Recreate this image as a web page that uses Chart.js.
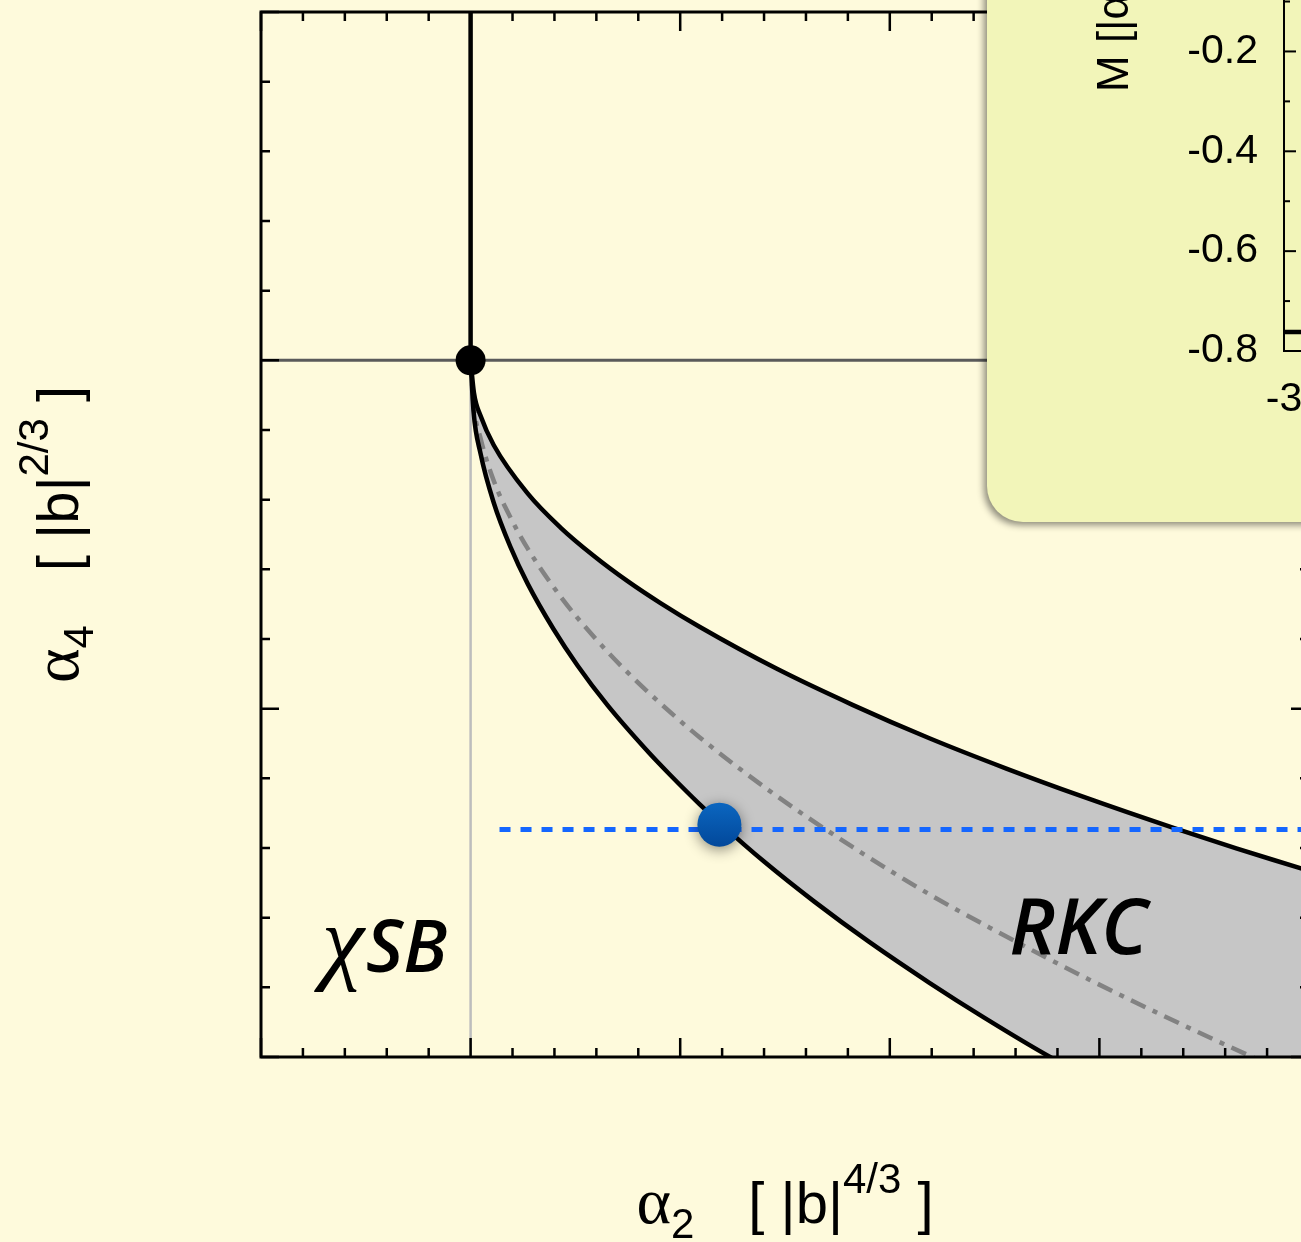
<!DOCTYPE html>
<html>
<head>
<meta charset="utf-8">
<script src="https://cdn.jsdelivr.net/npm/chart.js@4.4.1/dist/chart.umd.min.js"></script>
<style>
  html, body { margin: 0; padding: 0; background: #fefadc; overflow: hidden; }
  #wrap { position: relative; width: 1301px; height: 1242px; overflow: hidden; background: #fefadc; }
  #main { position: absolute; left: 0; top: 0; }
  #inset {
    position: absolute; left: 987px; top: -80px; width: 600px; height: 602px;
    background: #f2f5b9; border-radius: 36px; overflow: hidden;
    box-shadow: -3px 3px 7px rgba(0, 0, 0, 0.45);
  }
  #insetChart { position: absolute; left: 0; top: -19px; }
</style>
</head>
<body>
<div id="wrap">
  <canvas id="main" width="1320" height="1242"></canvas>
  <div id="inset"><canvas id="insetChart" width="600" height="621"></canvas></div>
</div>
<script>
// phase boundaries in the (alpha2, alpha4) plane, units |b|^(4/3) and |b|^(2/3)
const upperA2 = [0, 0.016, 0.048, 0.110, 0.272, 0.429, 0.587, 0.749, 0.906, 1.092, 1.459, 1.822, 2.189, 2.556, 2.918, 3.357, 3.653, 3.958, 4.0];
const upperA4 = [0, -0.093, -0.160, -0.243, -0.382, -0.480, -0.561, -0.634, -0.697, -0.765, -0.885, -0.989, -1.085, -1.172, -1.252, -1.343, -1.401, -1.458, -1.466];

const lowerA2 = [0, 0.014, 0.048, 0.110, 0.191, 0.272, 0.396, 0.510, 0.653, 0.850, 0.950, 1.092, 1.187, 1.400, 1.640, 1.900, 2.189, 2.450, 2.771, 3.4, 4.0];
const lowerA4 = [0, -0.146, -0.269, -0.408, -0.537, -0.641, -0.772, -0.876, -0.990, -1.126, -1.189, -1.274, -1.327, -1.439, -1.554, -1.669, -1.787, -1.887, -2.002, -2.20, -2.38];

const midA2 = [0, 0.014, 0.048, 0.110, 0.191, 0.272, 0.429, 0.587, 0.749, 0.906, 1.092, 1.459, 1.822, 2.189, 2.475, 2.952, 3.729, 4.0];
const midA4 = [0, -0.125, -0.225, -0.345, -0.452, -0.540, -0.678, -0.793, -0.896, -0.985, -1.082, -1.250, -1.397, -1.533, -1.628, -1.778, -2.000, -2.07];

// critical point, marked point and the scan line through it
const criticalPoint = { x: 0, y: 0 };
const markedPoint = { x: 1.187, y: -1.333 };
const scanA2 = [0.138, 4.0];
const scanA4 = -1.347;

// axis ranges and tick positions (no tick labels on the main frame)
const a2Range = [-1, 4];
const a4Range = [-2, 1];
const a2Major = [-1, 0, 1, 2, 3, 4];
const a4Major = [-2, -1, 0, 1];
const minorStep = 0.2;

// inset: low branch of M
const insetA = [-3, -2.5];
const insetM = [-0.762, -0.762];
const insetMRange = [-0.8, 0];
const insetMMinor = [-0.7, -0.5, -0.3, -0.1];

const toPoints = (xs, ys) => xs.map((x, i) => ({ x: x, y: ys[i] }));

const lineBase = { pointRadius: 0, showLine: true, fill: false };

// soft shadow under the blue marker
const markerShadow = {
  id: 'markerShadow',
  beforeDatasetDraw(chart, args) {
    if (args.index !== 0) return;
    const ctx = chart.ctx;
    ctx.save();
    ctx.shadowColor = 'rgba(0,0,0,0.45)';
    ctx.shadowBlur = 14;
    ctx.shadowOffsetY = 3;
  },
  afterDatasetDraw(chart, args) {
    if (args.index !== 0) return;
    chart.ctx.restore();
  }
};

// frame with inward ticks on all four sides
const frameTicks = {
  id: 'frameTicks',
  afterDraw(chart) {
    const { ctx, chartArea: ca, scales } = chart;
    const sx = scales.x, sy = scales.y;
    ctx.save();
    ctx.strokeStyle = '#000';
    ctx.lineCap = 'butt';
    ctx.lineWidth = 2.5;
    const isMajor = (v, list) => list.some(m => Math.abs(m - v) < 1e-6);
    for (let v = a2Range[0]; v <= a2Range[1] + 1e-6; v += minorStep) {
      const px = sx.getPixelForValue(v);
      const len = isMajor(v, a2Major) ? 19 : 9;
      ctx.beginPath();
      ctx.moveTo(px, ca.bottom); ctx.lineTo(px, ca.bottom - len);
      ctx.moveTo(px, ca.top); ctx.lineTo(px, ca.top + len);
      ctx.stroke();
    }
    for (let v = a4Range[0]; v <= a4Range[1] + 1e-6; v += minorStep) {
      const py = sy.getPixelForValue(v);
      const len = isMajor(v, a4Major) ? 18 : 9;
      ctx.beginPath();
      ctx.moveTo(ca.left, py); ctx.lineTo(ca.left + len, py);
      ctx.moveTo(ca.right, py); ctx.lineTo(ca.right - len, py);
      ctx.stroke();
    }
    ctx.lineWidth = 3;
    ctx.strokeRect(ca.left, ca.top, ca.right - ca.left, ca.bottom - ca.top);
    ctx.restore();
  }
};

// draws a title made of pieces with their own font and vertical shift
function pieceWidth(ctx, parts) {
  let w = 0;
  parts.forEach(p => {
    if (p.gap) { w += p.gap; return; }
    ctx.font = p.font;
    w += ctx.measureText(p.t).width;
  });
  return w;
}
function drawPieces(ctx, parts, x0, y0) {
  let x = x0;
  parts.forEach(p => {
    if (p.gap) { x += p.gap; return; }
    ctx.font = p.font;
    ctx.fillText(p.t, x, y0 + (p.dy || 0));
    x += ctx.measureText(p.t).width;
  });
}

const SANS = '"Liberation Sans", Arial, sans-serif';
const SERIF = '"Liberation Serif", "Times New Roman", serif';
const ITAL = '"Open Sans", Lato, sans-serif';

function axisTitle(sub, sup) {
  return [
    { t: 'α', font: '66px ' + SERIF },
    { t: sub, font: '42px ' + SANS, dy: 15 },
    { gap: 54 },
    { t: '[ |b|', font: '58px ' + SANS },
    { t: sup, font: '42px ' + SANS, dy: -30 },
    { t: ' ]', font: '58px ' + SANS }
  ];
}
const xTitle = axisTitle('2', '4/3');
const yTitle = axisTitle('4', '2/3');

const labelsPlugin = {
  id: 'labelsPlugin',
  afterDraw(chart) {
    const { ctx, chartArea: ca, scales } = chart;
    ctx.save();
    ctx.fillStyle = '#000';
    ctx.textBaseline = 'alphabetic';
    ctx.textAlign = 'left';

    // axis titles
    const cx = (ca.left + ca.right) / 2;
    const wx = pieceWidth(ctx, xTitle);
    drawPieces(ctx, xTitle, cx - wx / 2, ca.bottom + 166);

    const cy = (ca.top + ca.bottom) / 2;
    const wy = pieceWidth(ctx, yTitle);
    ctx.save();
    ctx.translate(78, cy + wy / 2);
    ctx.rotate(-Math.PI / 2);
    drawPieces(ctx, yTitle, 0, 0);
    ctx.restore();

    // region labels
    const chiX = scales.x.getPixelForValue(-0.71);
    const chiY = scales.y.getPixelForValue(-1.757);
    ctx.font = 'italic 96px ' + SERIF;
    ctx.fillText('χ', chiX, chiY);
    const chiW = ctx.measureText('χ').width;
    ctx.font = 'italic 600 72px ' + ITAL;
    ctx.fillText('SB', chiX + chiW + 2, chiY);

    ctx.font = 'italic 600 78px ' + ITAL;
    ctx.fillText('RKC', scales.x.getPixelForValue(2.57), scales.y.getPixelForValue(-1.703));
    ctx.restore();
  }
};

function markerFill(c) {
  const s = c.chart.scales.y;
  const py = s && c.raw ? s.getPixelForValue(c.raw.y) : NaN;
  if (!isFinite(py)) return '#0659ad';
  const g = c.chart.ctx.createLinearGradient(0, py - 22, 0, py + 22);
  g.addColorStop(0, '#0b66c0');
  g.addColorStop(1, '#02489a');
  return g;
}

new Chart(document.getElementById('main'), {
  type: 'scatter',
  data: {
    datasets: [
      { data: [markedPoint], showLine: false, pointRadius: 22, pointBorderWidth: 0, pointBackgroundColor: markerFill },
      { data: [criticalPoint], showLine: false, pointRadius: 15, pointBorderWidth: 0, pointBackgroundColor: '#000' },
      Object.assign({}, lineBase, {
        data: toPoints(scanA2, scanA2.map(() => scanA4)),
        borderColor: '#1466ff', borderWidth: 5, borderDash: [11, 10]
      }),
      Object.assign({}, lineBase, {
        data: toPoints(upperA2, upperA4), cubicInterpolationMode: 'monotone',
        borderColor: '#000', borderWidth: 4.5, fill: '+1', backgroundColor: '#c6c6c6'
      }),
      Object.assign({}, lineBase, {
        data: toPoints(lowerA2, lowerA4), cubicInterpolationMode: 'monotone',
        borderColor: '#000', borderWidth: 4.5
      }),
      Object.assign({}, lineBase, {
        data: toPoints(midA2, midA4), cubicInterpolationMode: 'monotone',
        borderColor: '#828282', borderWidth: 4.5, borderDash: [16, 8, 5, 8]
      }),
      Object.assign({}, lineBase, {
        data: [{ x: 0, y: 0 }, { x: 0, y: a4Range[1] }],
        borderColor: '#000', borderWidth: 4.5
      }),
      Object.assign({}, lineBase, {
        data: [{ x: a2Range[0], y: 0 }, { x: 3, y: 0 }],
        borderColor: '#5a5a5a', borderWidth: 3
      }),
      Object.assign({}, lineBase, {
        data: [{ x: 0, y: 0 }, { x: 0, y: a4Range[0] }],
        borderColor: '#bdbdbd', borderWidth: 2.5
      })
    ]
  },
  options: {
    responsive: false,
    animation: false,
    devicePixelRatio: 1,
    events: [],
    layout: { autoPadding: false, padding: { left: 261, top: 12, right: 11, bottom: 185 } },
    plugins: {
      legend: { display: false },
      tooltip: { enabled: false },
      filler: { drawTime: 'beforeDatasetsDraw' }
    },
    scales: {
      x: { type: 'linear', min: a2Range[0], max: a2Range[1], display: false },
      y: { type: 'linear', min: a4Range[0], max: a4Range[1], display: false }
    }
  },
  plugins: [markerShadow, frameTicks, labelsPlugin]
});

// inset: inward ticks and rotated axis title
const insetDecor = {
  id: 'insetDecor',
  afterDraw(chart) {
    const { ctx, chartArea: ca, scales } = chart;
    ctx.save();
    ctx.strokeStyle = '#000';
    ctx.lineWidth = 2;
    for (let v = insetMRange[0]; v <= insetMRange[1] + 1e-6; v += 0.2) {
      const py = scales.y.getPixelForValue(v);
      ctx.beginPath(); ctx.moveTo(ca.left, py); ctx.lineTo(ca.left + 12, py); ctx.stroke();
    }
    insetMMinor.forEach(v => {
      const py = scales.y.getPixelForValue(v);
      ctx.beginPath(); ctx.moveTo(ca.left, py); ctx.lineTo(ca.left + 6, py); ctx.stroke();
    });
    ctx.fillStyle = '#000';
    ctx.font = '44px ' + SANS;
    ctx.translate(ca.left - 156, ca.bottom - 259);
    ctx.rotate(-Math.PI / 2);
    ctx.fillText('M [|α₄|]', 0, 0);
    ctx.restore();
  }
};

const insetTicks = { color: '#000', font: { family: 'Liberation Sans', size: 41 } };

new Chart(document.getElementById('insetChart'), {
  type: 'scatter',
  data: {
    datasets: [{
      data: toPoints(insetA, insetM), showLine: true, pointRadius: 0,
      borderColor: '#000', borderWidth: 4.5
    }]
  },
  options: {
    responsive: false,
    maintainAspectRatio: false,
    animation: false,
    devicePixelRatio: 1,
    events: [],
    layout: { autoPadding: false, padding: { left: 0, top: 27, right: 0, bottom: 0 } },
    plugins: { legend: { display: false }, tooltip: { enabled: false } },
    scales: {
      x: {
        type: 'linear', min: -3, max: 1,
        ticks: Object.assign({ stepSize: 1, padding: 24, maxRotation: 0 }, insetTicks),
        grid: { drawOnChartArea: false, drawTicks: false },
        border: { color: '#000', width: 2 },
        afterFit(s) { s.height = 171; }
      },
      y: {
        type: 'linear', min: insetMRange[0], max: insetMRange[1],
        ticks: Object.assign({ stepSize: 0.2, padding: 26 }, insetTicks),
        grid: { drawOnChartArea: false, drawTicks: false },
        border: { color: '#000', width: 2 },
        afterFit(s) { s.width = 297; }
      }
    }
  },
  plugins: [insetDecor]
});
</script>
</body>
</html>
